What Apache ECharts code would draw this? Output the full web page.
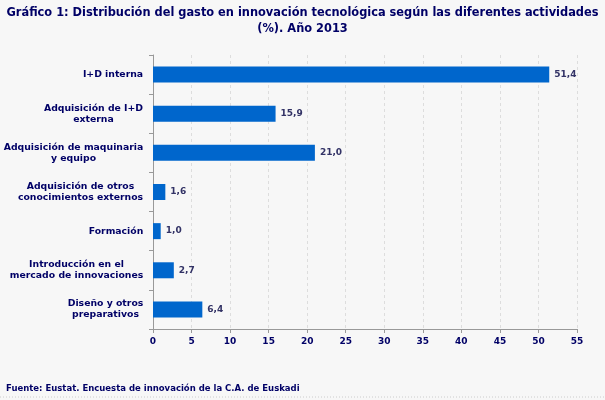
<!DOCTYPE html>
<html><head><meta charset="utf-8">
<script src="https://cdn.jsdelivr.net/npm/echarts@6/dist/echarts.min.js"></script>
<style>html,body{margin:0;padding:0;background:#f7f7f7}#c{width:605px;height:400px}</style>
</head><body><div id="c"></div>
<script>
const categories = ["I+D interna", "Adquisición de I+D\nexterna", "Adquisición de maquinaria\ny equipo", "Adquisición de otros\nconocimientos externos", "Formación", "Introducción en el\nmercado de innovaciones", "Diseño y otros\npreparativos"];
const values = [51.4, 15.9, 21.0, 1.6, 1.0, 2.7, 6.4];
const titleText = "Gráfico 1: Distribución del gasto en innovación tecnológica según las diferentes actividades\n(%). Año 2013";
const sourceText = "Fuente: Eustat. Encuesta de innovación de la C.A. de Euskadi";
const navy = "#000066";
const labelFont = "bold 9.3px 'DejaVu Sans'";
const ctx = document.createElement('canvas').getContext('2d');
ctx.font = labelFont;
const rich = {};
const formatted = categories.map((c, i) => {
  const lines = c.split('\n');
  const w = Math.ceil(Math.max(...lines.map(l => ctx.measureText(l).width))) + 1;
  rich['c' + i] = {width: w, align: 'center', color: navy, fontFamily: "DejaVu Sans", fontWeight: 'bold', fontSize: 9.3, lineHeight: 11};
  return lines.map(l => '{c' + i + '|' + l + '}').join('\n');
});
const chart = echarts.init(document.getElementById('c'));
chart.setOption({
  backgroundColor: "#f7f7f7",
  animation: false,
  title: {text: titleText, left: 'center', top: 0, textStyle: {color: navy, fontFamily: "DejaVu Sans", fontWeight: 'bold', fontSize: 11.4, lineHeight: 16}},
  graphic: [
    {type: 'text', left: 6, top: 384, style: {text: sourceText, fill: navy, font: "bold 8.5px 'DejaVu Sans'"}},
    {type: 'line', shape: {x1: 0, y1: 397, x2: 605, y2: 397}, style: {stroke: '#cccccc', lineDash: [1, 2], lineWidth: 1}}
  ],
  grid: {left: 152, right: 28, top: 55, bottom: 71, containLabel: false},
  xAxis: {type: 'value', min: 0, max: 55, interval: 5,
    axisLine: {show: true, lineStyle: {color: '#999999'}},
    axisTick: {show: true, length: 4, lineStyle: {color: '#999999'}},
    axisLabel: {color: navy, fontFamily: "DejaVu Sans", fontWeight: 'bold', fontSize: 9, margin: 8},
    splitLine: {show: true, lineStyle: {color: '#dddddd', type: [3, 3]}}},
  yAxis: {type: 'category', data: categories, inverse: true,
    axisLine: {show: true, lineStyle: {color: '#999999'}},
    axisTick: {show: true, length: 4, lineStyle: {color: '#999999'}},
    axisLabel: {margin: 9, align: 'right', rich: rich,
      formatter: (v, i) => formatted[i]}},
  series: [{type: 'bar', data: values, barWidth: 16,
    itemStyle: {color: '#0066cc'},
    label: {show: true, position: 'right', distance: 5, color: '#333366', fontFamily: "DejaVu Sans", fontWeight: 'bold', fontSize: 9,
      formatter: p => p.value.toFixed(1).replace('.', ',')}}]
});
</script></body></html>
